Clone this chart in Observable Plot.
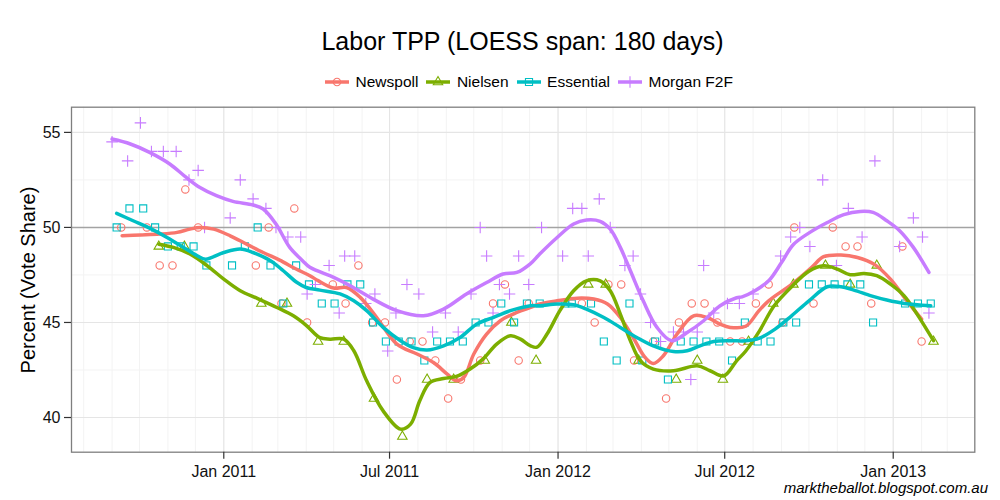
<!DOCTYPE html>
<html>
<head>
<meta charset="utf-8">
<script src="https://cdn.jsdelivr.net/npm/d3@7"></script>
<script src="https://cdn.jsdelivr.net/npm/@observablehq/plot@0.6"></script>
<style>
  body { margin: 0; background: #fff; font-family: "Liberation Sans", Arial, Helvetica, sans-serif; }
  #wrap { position: relative; width: 1000px; height: 500px; overflow: hidden; background: #fff; }
  #title { position: absolute; left: 71px; width: 903px; top: 26.3px; text-align: center; font-size: 25px; line-height: 30px; color: #000; white-space: nowrap; }
  #legend { position: absolute; left: 325px; top: 70.5px; height: 22px; display: flex; align-items: center; font-size: 15.5px; color: #000; white-space: nowrap; }
  .item { display: flex; align-items: center; margin-right: 8px; }
  .item svg { margin-right: 6.5px; display: block; }
  #ylab { position: absolute; left: 27.5px; top: 280px; transform: translate(-50%, -50%) rotate(-90deg); font-size: 20px; color: #000; white-space: nowrap; }
  #caption { position: absolute; right: 12px; top: 479px; font-size: 15px; line-height: 18px; font-style: italic; color: #000; white-space: nowrap; }
  #chart { position: absolute; left: 0; top: 95px; }
</style>
</head>
<body>
<div id="wrap">
  <div id="title">Labor TPP (LOESS span: 180 days)</div>
  <div id="legend"></div>
  <div id="chart"></div>
  <div id="ylab">Percent (Vote Share)</div>
  <div id="caption">marktheballot.blogspot.com.au</div>
</div>
<script>
// ---------------- data ----------------
const seriesNames = ["Newspoll", "Nielsen", "Essential", "Morgan F2F"];
const seriesColors = ["#F8766D", "#7CAE00", "#00BFC4", "#C77CFF"];

const newspollDates = ["2010-09-11","2010-10-09","2010-10-23","2010-11-06","2010-11-20","2010-12-04","2011-02-05","2011-02-19","2011-03-05","2011-03-19","2011-04-02","2011-04-30","2011-05-14","2011-05-28","2011-06-12","2011-06-26","2011-07-09","2011-07-23","2011-08-06","2011-08-20","2011-09-03","2011-09-17","2011-10-08","2011-10-22","2011-11-04","2011-11-19","2011-11-30","2012-01-27","2012-02-10","2012-02-25","2012-03-10","2012-03-24","2012-04-14","2012-04-28","2012-05-12","2012-05-26","2012-06-09","2012-06-23","2012-07-07","2012-07-20","2012-08-04","2012-08-18","2012-09-02","2012-09-15","2012-10-06","2012-10-27","2012-11-10","2012-11-23","2012-12-08","2013-01-11","2013-02-01"];
const newspollValues = [50,50,48,48,52,50,48,50,46,51,45,47,46,48,45,45,42,44,44,43,41,42,43,46,47,43,46,46,45,47,47,43,44,41,45,46,46,45,44,44,46,47,45,50,46,50,49,49,46,49,44];

const nielsenDates = ["2010-10-22","2010-11-19","2011-02-11","2011-03-11","2011-04-14","2011-05-12","2011-06-14","2011-07-15","2011-08-11","2011-09-09","2011-10-13","2011-11-11","2011-12-08","2012-02-03","2012-02-22","2012-03-29","2012-05-09","2012-06-01","2012-06-29","2012-07-27","2012-08-23","2012-09-14","2012-10-19","2012-11-15","2012-12-14","2013-02-14"];
const nielsenValues = [49,49,46,46,44,44,41,39,42,42,43,45,43,47,47,43,42,43,42,44,46,47,48,47,48,44];

const essentialDates = ["2010-09-06","2010-09-20","2010-10-05","2010-10-18","2010-11-01","2010-11-15","2010-11-29","2010-12-13","2011-01-10","2011-01-24","2011-02-07","2011-02-21","2011-03-07","2011-03-21","2011-04-04","2011-04-18","2011-05-02","2011-05-16","2011-05-30","2011-06-13","2011-06-27","2011-07-11","2011-07-25","2011-08-08","2011-08-22","2011-09-05","2011-09-19","2011-10-03","2011-10-17","2011-10-31","2011-11-14","2011-11-28","2011-12-12","2012-01-09","2012-01-16","2012-02-06","2012-02-20","2012-03-05","2012-03-19","2012-04-02","2012-04-16","2012-04-30","2012-05-14","2012-05-28","2012-06-11","2012-06-25","2012-07-09","2012-07-23","2012-08-06","2012-08-20","2012-09-03","2012-09-17","2012-10-01","2012-10-15","2012-10-29","2012-11-12","2012-11-26","2012-12-10","2013-01-14","2013-01-28","2013-02-11"];
const essentialValues = [50,51,51,50,49,49,49,48,48,49,50,48,46,48,47,46,46,47,47,45,44,44,44,43,44,44,44,45,45,46,45,46,46,46,46,46,44,43,46,43,44,42,44,44,44,44,43,45,44,44,45,45,47,47,47,47,47,45,46,46,46];

const morganDates = ["2010-09-01","2010-09-18","2010-10-02","2010-10-14","2010-10-27","2010-11-10","2010-11-24","2010-12-04","2010-12-11","2011-01-08","2011-01-19","2011-02-02","2011-02-16","2011-02-27","2011-03-12","2011-03-26","2011-04-02","2011-04-11","2011-04-26","2011-05-07","2011-05-13","2011-05-24","2011-06-05","2011-06-15","2011-06-29","2011-07-08","2011-07-20","2011-08-02","2011-08-17","2011-08-31","2011-09-14","2011-09-28","2011-10-08","2011-10-15","2011-10-22","2011-10-29","2011-11-09","2011-11-19","2011-11-30","2011-12-14","2012-01-06","2012-01-17","2012-01-27","2012-02-03","2012-02-15","2012-02-27","2012-03-14","2012-03-23","2012-03-31","2012-04-11","2012-04-22","2012-05-06","2012-05-17","2012-05-25","2012-06-01","2012-06-08","2012-06-19","2012-07-04","2012-07-17","2012-08-01","2012-08-31","2012-09-11","2012-09-21","2012-10-02","2012-10-16","2012-10-31","2012-11-13","2012-11-28","2012-12-12","2013-01-08","2013-01-23","2013-02-02","2013-02-09"];
const morganValues = [54.5,53.5,55.5,54,54,54,52.5,53,50,50.5,52.5,51.5,51,50,49.5,49.5,46.5,47,48,45.5,48.5,48.5,46,46.5,43.5,45.5,47,46.5,44.5,45.5,44.5,46.5,50,48.5,45.5,47,46.5,48.5,47,50,48.5,51,51,48.5,51.5,50,48,48.5,46.5,45,44,44.5,44.5,42,44.5,48,45.5,46,46,46.5,48.5,49.5,50,49,52.5,48,51,49.5,53.5,49,50.5,49.5,45.5];

// LOESS curves
const newspollSmoothDates = ["2010-09-12","2010-10-02","2010-10-23","2010-11-11","2010-11-25","2010-12-06","2010-12-21","2011-01-08","2011-01-26","2011-02-13","2011-03-03","2011-03-21","2011-04-05","2011-04-14","2011-05-01","2011-05-15","2011-05-30","2011-06-17","2011-07-09","2011-07-31","2011-08-18","2011-09-02","2011-09-12","2011-09-20","2011-10-01","2011-10-15","2011-10-30","2011-11-17","2011-12-02","2011-12-12","2011-12-31","2012-01-22","2012-02-09","2012-02-24","2012-03-09","2012-03-23","2012-04-05","2012-04-14","2012-04-25","2012-05-10","2012-05-28","2012-06-12","2012-06-26","2012-07-07","2012-07-24","2012-08-07","2012-08-18","2012-09-12","2012-10-04","2012-10-17","2012-11-05","2012-11-23","2012-12-11","2012-12-29","2013-01-16","2013-02-01"];
const newspollSmoothValues = [49.56,49.6,49.65,49.74,49.91,50.0,49.91,49.56,49.12,48.68,48.28,47.81,47.46,47.2,46.81,46.84,46.32,45.26,43.86,43.34,42.89,42.28,41.93,42.1,43.34,44.39,45.09,45.53,45.79,45.97,46.14,46.28,46.23,45.97,45.26,44.21,43.16,42.84,43.25,44.39,45.35,45.26,44.91,44.74,44.8,45.6,46.14,47.0,47.9,48.46,48.55,48.42,48.07,47.28,46.14,45.18];

const nielsenSmoothDates = ["2010-10-22","2010-11-07","2010-11-25","2010-12-14","2011-01-01","2011-01-19","2011-02-06","2011-02-28","2011-03-18","2011-04-01","2011-04-16","2011-04-27","2011-05-12","2011-05-23","2011-06-06","2011-06-24","2011-07-13","2011-07-24","2011-08-03","2011-08-14","2011-08-29","2011-09-12","2011-09-27","2011-10-11","2011-10-26","2011-11-10","2011-11-21","2011-12-02","2011-12-09","2011-12-20","2012-01-03","2012-01-18","2012-02-01","2012-02-16","2012-02-27","2012-03-09","2012-03-20","2012-03-31","2012-04-14","2012-05-06","2012-06-01","2012-06-15","2012-06-30","2012-07-14","2012-07-24","2012-08-08","2012-08-24","2012-09-13","2012-10-01","2012-10-17","2012-11-01","2012-11-15","2012-11-30","2012-12-14","2012-12-29","2013-01-13","2013-01-27","2013-02-14"];
const nielsenSmoothValues = [49.12,48.95,48.6,47.98,47.28,46.67,46.28,45.79,45.35,44.85,44.2,44.12,44.12,43.51,41.93,40.35,39.39,39.65,40.88,41.84,42.05,42.16,42.55,43.07,43.86,44.3,44.12,43.77,43.7,44.39,45.62,46.67,47.19,47.19,46.67,45.44,44.04,42.98,42.55,42.46,42.72,42.46,42.19,42.98,43.5,44.56,45.88,46.93,47.7,47.98,47.81,47.51,47.58,47.46,47.02,46.4,45.44,44.04];

const essentialSmoothDates = ["2010-09-06","2010-09-24","2010-10-12","2010-10-31","2010-11-18","2010-12-03","2010-12-12","2011-01-01","2011-01-19","2011-02-02","2011-02-21","2011-03-07","2011-03-22","2011-04-01","2011-04-16","2011-05-08","2011-05-23","2011-06-06","2011-06-24","2011-07-13","2011-07-27","2011-08-11","2011-08-29","2011-09-16","2011-10-04","2011-10-22","2011-11-10","2011-12-02","2011-12-12","2011-12-31","2012-01-18","2012-02-01","2012-02-20","2012-03-09","2012-03-27","2012-04-14","2012-05-06","2012-05-21","2012-06-04","2012-06-19","2012-07-07","2012-07-24","2012-08-08","2012-08-25","2012-09-12","2012-10-01","2012-10-21","2012-11-05","2012-11-19","2012-12-08","2012-12-25","2013-01-13","2013-02-11"];
const essentialSmoothValues = [50.74,50.35,49.96,49.47,48.95,48.51,48.33,48.68,48.86,48.68,48.25,47.72,47.1,46.84,46.7,46.5,46.14,45.62,44.74,44.04,43.68,43.55,43.77,44.21,44.91,45.26,45.62,45.88,45.88,45.97,45.93,45.7,45.26,44.74,44.21,43.77,43.47,43.51,43.77,44.0,44.04,44.04,44.18,44.65,45.35,46.14,46.88,46.88,46.7,46.4,46.18,46.0,45.88];

const morganSmoothDates = ["2010-09-01","2010-09-21","2010-10-12","2010-11-03","2010-11-21","2010-12-06","2010-12-24","2011-01-11","2011-02-02","2011-02-13","2011-02-27","2011-03-14","2011-03-28","2011-04-05","2011-05-01","2011-05-19","2011-06-13","2011-07-09","2011-08-07","2011-08-29","2011-09-23","2011-10-15","2011-11-02","2011-11-17","2011-12-02","2011-12-12","2011-12-31","2012-01-18","2012-02-01","2012-02-16","2012-02-27","2012-03-09","2012-03-20","2012-04-03","2012-04-18","2012-05-04","2012-05-21","2012-06-08","2012-06-26","2012-07-14","2012-07-20","2012-08-03","2012-08-18","2012-09-01","2012-09-14","2012-10-02","2012-10-21","2012-11-08","2012-11-26","2012-12-10","2012-12-25","2013-01-08","2013-01-23","2013-02-09"];
const morganSmoothValues = [54.65,54.39,53.95,53.34,52.63,52.1,51.67,51.37,51.18,50.97,50.18,48.95,48.25,47.9,47.37,46.93,46.23,45.62,45.35,45.7,46.5,47.1,47.55,47.63,48.1,48.6,49.47,50.18,50.39,50.32,49.91,48.95,47.72,46.14,44.74,44.04,44.47,45.09,45.88,46.3,46.35,46.67,47.19,48.15,49.1,49.74,50.26,50.67,50.84,50.79,50.35,49.83,48.95,47.63];

// axes
const xDomain = ["2010-07-18T17:00:00Z", "2013-03-31T02:00:00Z"];
const yDomain = [38.175, 56.325];
const xTickDates = ["2011-01-01", "2011-07-01", "2012-01-01", "2012-07-01", "2013-01-01"];
const xTickLabels = ["Jan 2011", "Jul 2011", "Jan 2012", "Jul 2012", "Jan 2013"];
const yTicks = [40, 45, 50, 55];
const yMinorTicks = [42.5, 47.5, 52.5];
const referenceLine = [50];

// ---------------- build ----------------
const parse = d3.utcParse("%Y-%m-%d");
const toRows = (dates, values) => dates.map((d, i) => ({date: parse(d), value: values[i]}));

const pointSets = [
  toRows(newspollDates, newspollValues),
  toRows(nielsenDates, nielsenValues),
  toRows(essentialDates, essentialValues),
  toRows(morganDates, morganValues)
];
const smoothSets = [
  toRows(newspollSmoothDates, newspollSmoothValues),
  toRows(nielsenSmoothDates, nielsenSmoothValues),
  toRows(essentialSmoothDates, essentialSmoothValues),
  toRows(morganSmoothDates, morganSmoothValues)
];
const symbols = ["circle", "triangle2", "square2", "plus"];
const symbolR = [3.7, 4.5, 4.5, 3.8];

const xd = xDomain.map(s => new Date(s));
const majorDates = xTickDates.map(parse);
const labelMap = new Map(majorDates.map((d, i) => [+d, xTickLabels[i]]));
const minorDates = d3.utcMonths(xd[0], xd[1]);

const marks = [
  Plot.gridX({ticks: minorDates, stroke: "#f3f3f3", strokeOpacity: 1, strokeWidth: 1}),
  Plot.gridY({ticks: yMinorTicks, stroke: "#f3f3f3", strokeOpacity: 1, strokeWidth: 1}),
  Plot.gridX({ticks: majorDates, stroke: "#e5e5e5", strokeOpacity: 1, strokeWidth: 1.1}),
  Plot.gridY({ticks: yTicks, stroke: "#e5e5e5", strokeOpacity: 1, strokeWidth: 1.1}),
  Plot.ruleY(referenceLine, {stroke: "#a3a3a3", strokeWidth: 1.5})
];
pointSets.forEach((rows, k) => {
  marks.push(Plot.dot(rows, {x: "date", y: "value", symbol: symbols[k], r: symbolR[k], stroke: seriesColors[k], fill: "none", strokeWidth: 1.1}));
});
smoothSets.forEach((rows, k) => {
  marks.push(Plot.line(rows, {x: "date", y: "value", stroke: seriesColors[k], strokeWidth: 3.5, curve: "catmull-rom"}));
});
marks.push(
  Plot.frame({stroke: "#7f7f7f", strokeWidth: 1.3}),
  Plot.axisX({ticks: majorDates, tickFormat: d => labelMap.get(+d), tickSize: 7, tickPadding: 6, fontSize: 16, stroke: "#333", strokeWidth: 1.2, fill: "#111", label: null}),
  Plot.axisY({ticks: yTicks, tickSize: 7, tickPadding: 4, fontSize: 16, stroke: "#333", strokeWidth: 1.2, fill: "#111", label: null})
);

const chart = Plot.plot({
  width: 1000,
  height: 405,
  marginTop: 11.7,
  marginBottom: 48.3,
  marginLeft: 71,
  marginRight: 25.7,
  style: {fontFamily: "'Liberation Sans', Arial, Helvetica, sans-serif", fontSize: "16px", background: "white", color: "#111"},
  x: {type: "utc", domain: xd},
  y: {domain: yDomain},
  marks
});
document.getElementById("chart").appendChild(chart);

// ---------------- legend ----------------
const d3Symbols = [d3.symbolCircle, d3.symbolTriangle2, d3.symbolSquare2, d3.symbolPlus];
const legend = document.getElementById("legend");
seriesNames.forEach((name, k) => {
  const item = document.createElement("div");
  item.className = "item";
  const ns = "http://www.w3.org/2000/svg";
  const svg = document.createElementNS(ns, "svg");
  svg.setAttribute("width", 24);
  svg.setAttribute("height", 18);
  const line = document.createElementNS(ns, "line");
  line.setAttribute("x1", 0); line.setAttribute("x2", 24);
  line.setAttribute("y1", 9); line.setAttribute("y2", 9);
  line.setAttribute("stroke", seriesColors[k]);
  line.setAttribute("stroke-width", 3.5);
  svg.appendChild(line);
  const p = document.createElementNS(ns, "path");
  p.setAttribute("d", d3.symbol(d3Symbols[k], Math.PI * symbolR[k] * symbolR[k])());
  p.setAttribute("transform", "translate(12,9)");
  p.setAttribute("fill", "none");
  p.setAttribute("stroke", seriesColors[k]);
  p.setAttribute("stroke-width", 1.1);
  svg.appendChild(p);
  item.appendChild(svg);
  const t = document.createElement("span");
  t.textContent = name;
  item.appendChild(t);
  legend.appendChild(item);
});
</script>
</body>
</html>
